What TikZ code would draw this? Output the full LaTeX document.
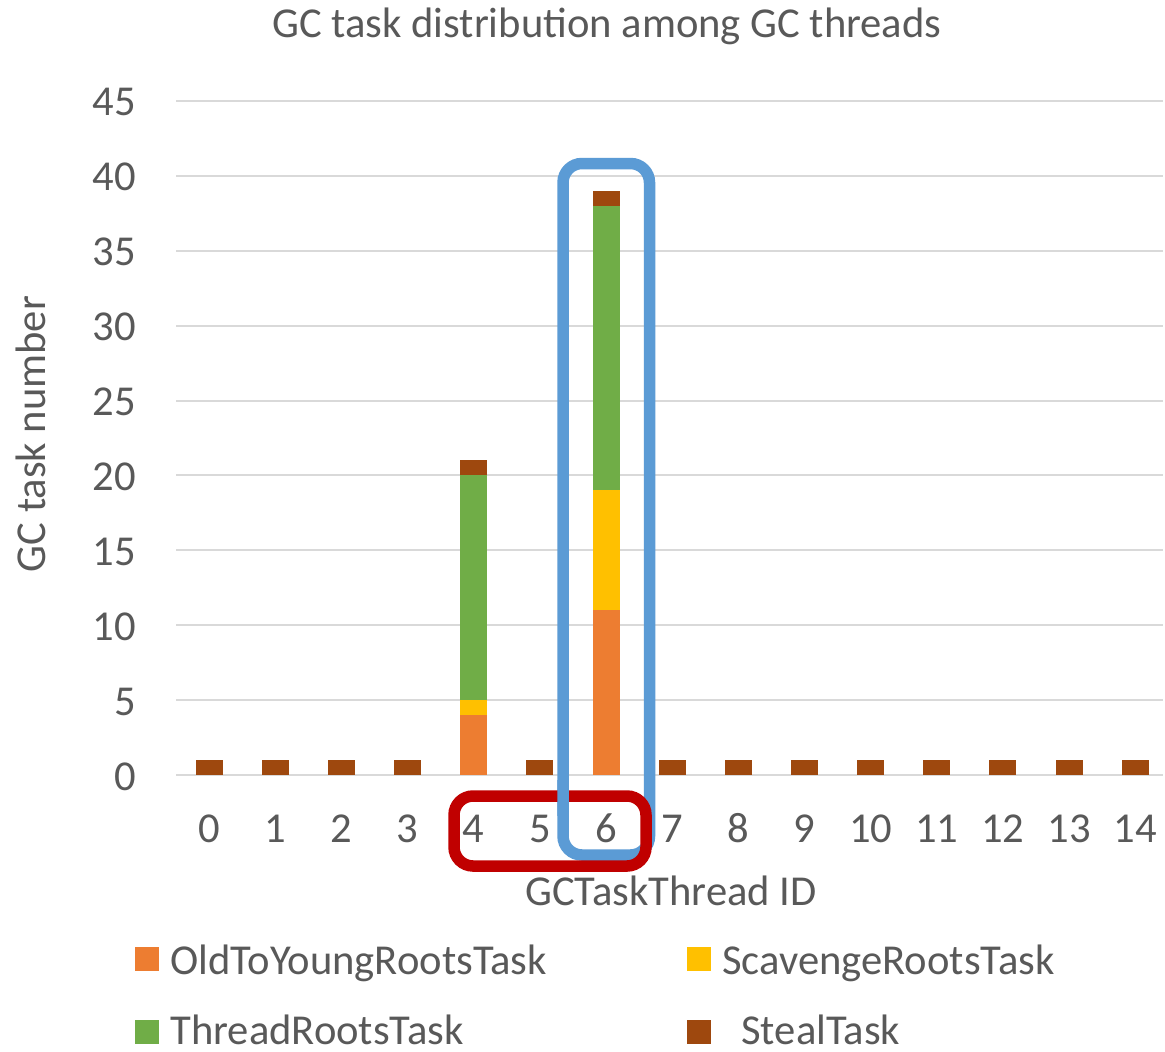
\documentclass[tikz,border=0pt]{standalone}
\usepackage{fontspec}
\setmainfont{Carlito}
\definecolor{txtgray}{HTML}{595959}
\definecolor{gridgray}{HTML}{D9D9D9}
\definecolor{cold}{HTML}{ED7D31}
\definecolor{cscav}{HTML}{FFC000}
\definecolor{cthread}{HTML}{70AD47}
\definecolor{csteal}{HTML}{9E480E}
\definecolor{hlblue}{HTML}{5B9BD5}
\definecolor{hlred}{HTML}{C00000}
\begin{document}
\begin{tikzpicture}[x=0.5pt,y=-0.5pt,
  txt/.style={text=txtgray,font=\fontsize{21.3}{25}\selectfont,inner sep=0pt},
  gridline/.style={draw=gridgray,line width=1pt},
  hlbox/.style={line width=5.75pt,rounded corners=9.5pt}]
\useasboundingbox[fill=white] (0,0) rectangle (1165,1051);
% grid
\foreach \v in {0,5,...,45}
  \draw[gridline] (176,{775-14.978*\v}) -- (1163,{775-14.978*\v});
% single steal bars
\foreach \i in {0,1,2,3,5,7,8,9,10,11,12,13,14}
  \fill[csteal] ({209.2+66.14*\i-13.5},775) rectangle ({209.2+66.14*\i+13.5},{775-14.978});
% stacked bars
\foreach \i/\a/\b/\c/\d in {4/4/5/20/21,6/11/19/38/39}{
  \fill[cold] ({209.2+66.14*\i-13.5},775) rectangle ({209.2+66.14*\i+13.5},{775-14.978*\a});
  \fill[cscav] ({209.2+66.14*\i-13.5},{775-14.978*\a}) rectangle ({209.2+66.14*\i+13.5},{775-14.978*\b});
  \fill[cthread] ({209.2+66.14*\i-13.5},{775-14.978*\b}) rectangle ({209.2+66.14*\i+13.5},{775-14.978*\c});
  \fill[csteal] ({209.2+66.14*\i-13.5},{775-14.978*\c}) rectangle ({209.2+66.14*\i+13.5},{775-14.978*\d});
}
% y tick labels
\foreach \v in {0,5,...,45}
  \node[txt,anchor=base east] (yl\v) at (136,{775-14.978*\v+15}) {\v};
% x tick labels
\foreach \i in {0,...,14}
  \node[txt,anchor=base] (xl\i) at ({209.2+66.14*\i},842) {\i};
% titles
\node[txt,anchor=base] (title) at (607,37) {GC task distribution among GC threads};
\node[txt,anchor=base] (xtitle) at (671,905) {GCTaskThread ID};
\node[txt,rotate=90] (ytitle) at (31,434) {GC task number};
% highlight boxes
\draw[hlbox,draw=hlblue] (563,163.5) rectangle (649.5,855);
\draw[hlbox,draw=hlred] (454,796) rectangle (646,866);
\begin{scope}
  \clip (550,780) rectangle (580,815);
  \draw[hlbox,draw=hlblue] (563,163.5) rectangle (649.5,855);
\end{scope}
% legend
\fill[cold] (135,947) rectangle (159,971);
\node[txt,anchor=base west] (lg1) at (170,974) {OldToYoungRootsTask};
\fill[cscav] (687,947) rectangle (711,971);
\node[txt,anchor=base west] (lg2) at (722,974) {ScavengeRootsTask};
\fill[cthread] (135,1020) rectangle (159,1044);
\node[txt,anchor=base west] (lg3) at (170,1044) {ThreadRootsTask};
\fill[csteal] (687,1020) rectangle (711,1044);
\node[txt,anchor=base west] (lg4) at (741,1044) {StealTask};
\end{tikzpicture}
\end{document}
